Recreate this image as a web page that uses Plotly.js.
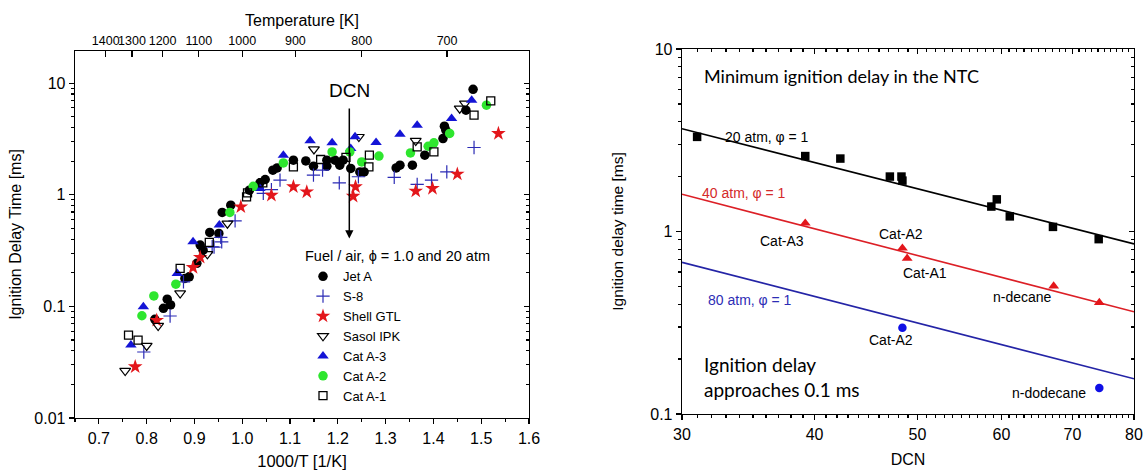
<!DOCTYPE html>
<html><head><meta charset="utf-8">
<script src="https://cdn.plot.ly/plotly-3.0.1.min.js"></script>
<style>html,body{margin:0;padding:0;background:#fff}#chart{width:1143px;height:470px}</style>
</head><body><div id="chart"></div>
<script>
// ---------- Left panel data: ignition delay [ms] vs 1000/T [1/K] ----------
const jetA_x = [0.817,0.835,0.843,0.850,0.880,0.889,0.905,0.912,0.918,0.932,0.951,0.958,0.976,1.015,1.037,1.048,1.064,1.073,1.107,1.133,1.149,1.177,1.177,1.194,1.204,1.211,1.227,1.246,1.255,1.322,1.330,1.356,1.382,1.420,1.423,1.426,1.468,1.483];
const jetA_y = [0.0765,0.096,0.116,0.103,0.178,0.184,0.243,0.354,0.319,0.46,0.45,0.695,0.807,1.10,1.28,1.37,1.66,1.74,2.04,2.01,1.80,2.04,1.80,2.04,1.84,2.04,1.72,1.60,1.60,1.74,1.84,1.84,2.26,3.19,4.11,3.79,5.72,8.81];
const s8_x = [0.794,0.849,0.877,0.937,0.941,0.955,0.957,0.985,1.044,1.061,1.079,1.149,1.168,1.203,1.243,1.318,1.366,1.396,1.428,1.485];
const s8_y = [0.039,0.082,0.166,0.342,0.34,0.415,0.379,0.584,1.03,1.11,1.35,1.50,1.66,1.28,1.45,1.43,1.24,1.35,1.60,2.65];
const gtl_x = [0.776,0.821,0.897,0.912,0.997,1.061,1.107,1.135,1.232,1.237,1.363,1.398,1.450,1.536];
const gtl_y = [0.0288,0.075,0.223,0.275,0.78,0.99,1.18,1.06,0.97,1.18,1.08,1.14,1.53,3.54];
const ipk_x = [0.755,0.800,0.824,0.870,0.927,0.969,1.150,1.244,1.363,1.455,1.466];
const ipk_y = [0.0265,0.0444,0.067,0.131,0.294,0.553,2.56,3.30,3.04,5.93,6.56];
const a3_x = [0.767,0.793,0.864,0.897,0.952,1.037,1.086,1.142,1.188,1.227,1.236,1.280,1.330,1.366,1.438,1.480];
const a3_y = [0.045,0.099,0.197,0.379,0.535,1.14,2.26,3.04,2.92,2.60,3.30,2.94,3.49,4.20,4.82,7.03];
const a2_x = [0.790,0.815,0.861,0.974,1.023,1.086,1.188,1.225,1.250,1.286,1.352,1.389,1.401,1.434,1.511];
const a2_y = [0.0824,0.124,0.158,0.695,1.19,1.93,2.42,2.42,1.97,2.22,2.37,2.72,2.92,3.54,6.34];
const a1_x = [0.762,0.782,0.870,0.931,1.009,1.011,1.043,1.107,1.164,1.217,1.265,1.266,1.366,1.401,1.485,1.520];
const a1_y = [0.0553,0.0499,0.219,0.374,0.957,1.04,1.28,1.78,2.07,2.16,1.78,2.26,2.69,2.42,5.16,6.93];
const fuelNames = ['Jet A','S-8','Shell GTL','Sasol IPK','Cat A-3','Cat A-2','Cat A-1'];
const tempTicks = [1400,1300,1200,1100,1000,900,800,700];
const dcnArrowX = 1.224, dcnArrowTop = 6.12, dcnArrowTip = 0.406, dcnLabelY = 8.6;

// ---------- Right panel data: minimum ignition delay [ms] vs DCN ----------
const dcn20 = [31.0,39.2,42.3,47.1,48.3,48.4,58.7,59.4,61.1,67.1,74.1];
const tau20 = [3.30,2.59,2.51,2.00,2.00,1.90,1.37,1.50,1.21,1.06,0.908];
const dcn40 = [39.2,48.4,48.9,67.2,74.2];
const tau40 = [1.11,0.81,0.713,0.502,0.408];
const dcn80 = [48.4,74.2];
const tau80 = [0.297,0.139];
const fitDCN = [30,80];
const fit20 = [3.66,0.855];
const fit40 = [1.60,0.363];
const fit80 = [0.678,0.156];
const dcnTicks = [30,40,50,60,70,80];

const W = 1143, H = 470;
const L = Math.log10;
const ARIAL = 'Liberation Sans, Arial, sans-serif';

function logMinor(lo, hi){ const v=[]; for(let d=lo; d<hi; d++){ for(let k=2;k<=9;k++) v.push(k*Math.pow(10,d)); } return v; }
const minorDCN = []; for(let v=31; v<80; v++){ if(v%10!==0) minorDCN.push(v); }

const traces = [];
function fuel(x,y,name,marker){ traces.push({type:'scatter',mode:'markers',x:x,y:y,name:name,xaxis:'x',yaxis:'y',marker:marker,hoverinfo:'skip'}); }
fuel(jetA_x,jetA_y,fuelNames[0],{symbol:'circle',size:9.5,color:'#000'});
fuel(s8_x,s8_y,fuelNames[1],{symbol:'cross-thin-open',size:9.5,color:'#2b2bb5',line:{color:'#2b2bb5',width:1.2}});
fuel(gtl_x,gtl_y,fuelNames[2],{symbol:'star',size:11,color:'#e3161b'});
fuel(ipk_x,ipk_y,fuelNames[3],{symbol:'triangle-down-open',size:9.5,color:'#000',line:{color:'#000',width:1.2}});
fuel(a3_x,a3_y,fuelNames[4],{symbol:'triangle-up',size:10,color:'#1414d6'});
fuel(a2_x,a2_y,fuelNames[5],{symbol:'circle',size:9.5,color:'#2ee62e'});
fuel(a1_x,a1_y,fuelNames[6],{symbol:'square-open',size:8,color:'#000',line:{color:'#000',width:1.3}});

function fit(y,color){ traces.push({type:'scatter',mode:'lines',x:fitDCN,y:y,xaxis:'x3',yaxis:'y3',line:{color:color,width:1.6},showlegend:false,hoverinfo:'skip'}); }
fit(fit20,'#000'); fit(fit40,'#dc1f26'); fit(fit80,'#2424a6');
function pts(x,y,sym,size,color){ traces.push({type:'scatter',mode:'markers',x:x,y:y,xaxis:'x3',yaxis:'y3',marker:{symbol:sym,size:size,color:color},showlegend:false,hoverinfo:'skip'}); }
pts(dcn20,tau20,'square',8.5,'#000');
pts(dcn40,tau40,'triangle-up',9.5,'#e3161b');
pts(dcn80,tau80,'circle',8.5,'#0f0fe6');

// invisible carriers so the mirror/secondary axes (top temperature axis, right frames) get drawn
function carrier(x,y,xa,ya){ traces.push({type:'scatter',mode:'markers',x:x,y:y,xaxis:xa,yaxis:ya,marker:{opacity:0,size:1},showlegend:false,hoverinfo:'skip'}); }
carrier(a1_x,a1_y,'x2','y');
carrier(a1_x,a1_y,'x','y2');
carrier(dcn20,tau20,'x4','y3');
carrier(dcn20,tau20,'x3','y4');

const lineStyle = {showline:true,linecolor:'#000',linewidth:1.3,zeroline:false,showgrid:false,tickcolor:'#000',tickwidth:1.2,tickangle:0};
const lx = [75/W, 529/W], ly = [52/H, 419/H];
const rx = [682/W, 1134/W], ry = [56/H, 421/H];
const yMinorL = logMinor(-2,2), yMinorR = logMinor(-1,1);
const yRangeL = [-2, L(19.4)];
const lblFont = {size:14};

const layout = {
  width:W, height:H, margin:{l:0,r:0,t:0,b:0},
  paper_bgcolor:'#fff', plot_bgcolor:'#fff',
  font:{family:ARIAL,color:'#000',size:16},
  showlegend:true,
  legend:{x:303/W,y:0.484,xanchor:'left',yanchor:'top',bgcolor:'rgba(0,0,0,0)',
    font:{size:13},title:{text:'Fuel / air, \u03d5 = 1.0 and 20 atm',font:{size:14.5}},tracegroupgap:0},
  xaxis:Object.assign({},lineStyle,{domain:lx,anchor:'y',range:[0.65,1.6],tickmode:'linear',tick0:0.7,dtick:0.1,tickformat:'.1f',
    ticks:'outside',ticklen:5,tickfont:{size:16},minor:{ticks:'outside',ticklen:3,tick0:0.65,dtick:0.05,tickcolor:'#000'},
    title:{text:'1000/T [1/K]',font:{size:16.5},standoff:16}}),
  xaxis2:Object.assign({},lineStyle,{overlaying:'x',side:'top',anchor:'y',range:[0.65,1.6],tickmode:'array',
    tickvals:tempTicks.map(t=>1000/t),ticktext:tempTicks.map(String),ticks:'inside',ticklen:6,tickfont:{size:12.5},
    title:{text:'Temperature [K]',font:{size:16},standoff:3}}),
  yaxis:Object.assign({},lineStyle,{domain:ly,anchor:'x',type:'log',range:yRangeL,tickmode:'array',
    tickvals:[0.01,0.1,1,10],ticktext:['0.01','0.1','1','10'],ticks:'outside',ticklen:5,tickfont:{size:16},
    minor:{tickmode:'array',tickvals:yMinorL,ticks:'outside',ticklen:3,tickcolor:'#000'},
    title:{text:'Ignition Delay Time [ms]',font:{size:16},standoff:8}}),
  yaxis2:Object.assign({},lineStyle,{overlaying:'y',side:'right',anchor:'x',type:'log',range:yRangeL,tickmode:'array',
    tickvals:[0.01,0.1,1,10],showticklabels:false,ticks:'inside',ticklen:5,
    minor:{tickmode:'array',tickvals:yMinorL,ticks:'inside',ticklen:3,tickcolor:'#000'}}),
  xaxis3:Object.assign({},lineStyle,{domain:rx,anchor:'y3',type:'log',range:[L(30),L(80)],tickmode:'array',
    tickvals:dcnTicks,ticktext:dcnTicks.map(String),ticks:'outside',ticklen:5,tickfont:{size:16},
    minor:{tickmode:'array',tickvals:minorDCN,ticks:'outside',ticklen:3,tickcolor:'#000'},
    title:{text:'DCN',font:{size:16},standoff:12}}),
  xaxis4:Object.assign({},lineStyle,{overlaying:'x3',side:'top',anchor:'y3',type:'log',range:[L(30),L(80)],tickmode:'array',
    tickvals:dcnTicks,showticklabels:false,ticks:'inside',ticklen:5,
    minor:{tickmode:'array',tickvals:minorDCN,ticks:'inside',ticklen:3,tickcolor:'#000'}}),
  yaxis3:Object.assign({},lineStyle,{domain:ry,anchor:'x3',type:'log',range:[-1,1],tickmode:'array',
    tickvals:[0.1,1,10],ticktext:['0.1','1','10'],ticks:'outside',ticklen:5,tickfont:{size:16},
    minor:{tickmode:'array',tickvals:yMinorR,ticks:'outside',ticklen:3,tickcolor:'#000'},
    title:{text:'Ignition delay time [ms]',font:{size:15.5},standoff:22}}),
  yaxis4:Object.assign({},lineStyle,{overlaying:'y3',side:'right',anchor:'x3',type:'log',range:[-1,1],tickmode:'array',
    tickvals:[0.1,1,10],showticklabels:false,ticks:'inside',ticklen:5,
    minor:{tickmode:'array',tickvals:yMinorR,ticks:'inside',ticklen:3,tickcolor:'#000'}}),
  annotations:[
    {xref:'x',yref:'y',axref:'x',ayref:'y',x:dcnArrowX,y:L(dcnArrowTip),ax:dcnArrowX,ay:L(dcnArrowTop),text:'',
     showarrow:true,arrowhead:2,arrowsize:1.1,arrowwidth:1.5,arrowcolor:'#000'},
    {xref:'x',yref:'y',x:dcnArrowX,y:L(dcnLabelY),text:'DCN',showarrow:false,font:{size:19}},
    {xref:'x3',yref:'y3',x:L(31.3),y:L(7.15),xanchor:'left',text:'Minimum ignition delay in the NTC',showarrow:false,font:{family:'Lato, Open Sans, sans-serif',size:18}},
    {xref:'x3',yref:'y3',x:L(36.1),y:L(3.3),text:'20 atm, \u03c6 = 1',showarrow:false,font:lblFont},
    {xref:'x3',yref:'y3',x:L(34.3),y:L(1.62),text:'40 atm, \u03c6 = 1',showarrow:false,font:{size:14,color:'#d42a2a'}},
    {xref:'x3',yref:'y3',x:L(34.8),y:L(0.421),text:'80 atm, \u03c6 = 1',showarrow:false,font:{size:14,color:'#2d2db5'}},
    {xref:'x3',yref:'y3',x:L(37.3),y:L(0.882),text:'Cat-A3',showarrow:false,font:lblFont},
    {xref:'x3',yref:'y3',x:L(48.3),y:L(0.97),text:'Cat-A2',showarrow:false,font:lblFont},
    {xref:'x3',yref:'y3',x:L(50.8),y:L(0.59),text:'Cat-A1',showarrow:false,font:lblFont},
    {xref:'x3',yref:'y3',x:L(62.8),y:L(0.439),text:'n-decane',showarrow:false,font:lblFont},
    {xref:'x3',yref:'y3',x:L(47.2),y:L(0.255),text:'Cat-A2',showarrow:false,font:lblFont},
    {xref:'x3',yref:'y3',x:L(66.5),y:L(0.130),text:'n-dodecane',showarrow:false,font:lblFont},
    {xref:'x3',yref:'y3',x:L(31.3),y:L(0.16),xanchor:'left',align:'left',text:'Ignition delay<br>approaches 0.1 ms',showarrow:false,font:{family:'Lato, Open Sans, sans-serif',size:19}}
  ]
};

Plotly.newPlot('chart', traces, layout, {staticPlot:true});
</script></body></html>
